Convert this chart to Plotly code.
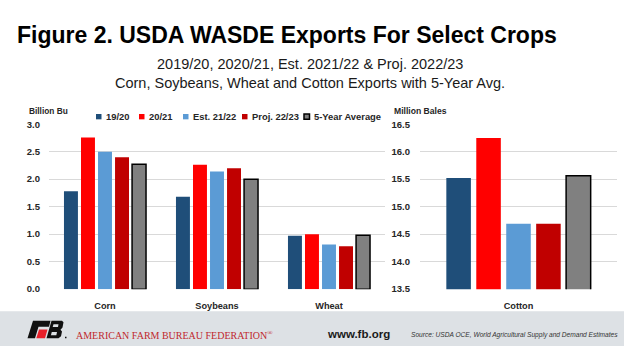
import plotly.graph_objects as go

W, H = 624, 351

# ---------------- data ----------------
categories = ["Corn", "Soybeans", "Wheat"]
cotton_category = ["Cotton"]
series_names = ["19/20", "20/21", "Est. 21/22", "Proj. 22/23", "5-Year Average"]

grain_1920 = [1.78, 1.68, 0.97]
grain_2021 = [2.76, 2.26, 1.00]
grain_2122 = [2.50, 2.14, 0.81]
grain_2223 = [2.40, 2.20, 0.78]
grain_5yr = [2.27, 2.00, 0.98]

cotton_1920 = [15.52]
cotton_2021 = [16.25]
cotton_2122 = [14.69]
cotton_2223 = [14.69]
cotton_5yr = [15.56]

left_ticks = [0.0, 0.5, 1.0, 1.5, 2.0, 2.5, 3.0]
right_ticks = [13.5, 14.0, 14.5, 15.0, 15.5, 16.0, 16.5]

grain_series = [grain_1920, grain_2021, grain_2122, grain_2223, grain_5yr]
cotton_series = [cotton_1920, cotton_2021, cotton_2122, cotton_2223, cotton_5yr]

# ---------------- styles ----------------
colors = ["#1F4E79", "#FF0000", "#5B9BD5", "#C00000", "#808080"]
outline_w = [0, 0, 0, 0, 1.5]
SANS = "Liberation Sans, Arial"
SERIF = "Liberation Serif, Times New Roman"
TXT = "#262626"
GRID = "#D9D9D9"
FOOT = "#DDE1E5"


def px(x):
    return x / W


def py(y):
    return 1 - y / H


fig = go.Figure()
for name, g, c, col, lw in zip(series_names, grain_series, cotton_series, colors, outline_w):
    fig.add_trace(go.Bar(x=categories, y=g, name=name, marker=dict(color=col, line=dict(color="#000000", width=lw)),
                         xaxis="x", yaxis="y", showlegend=False))
    fig.add_trace(go.Bar(x=cotton_category, y=c, name=name, marker=dict(color=col, line=dict(color="#000000", width=lw)),
                         xaxis="x2", yaxis="y2", showlegend=False))

ydom = [py(292.3), py(122)]
ytickfont = dict(family=SANS, size=9.5, color=TXT, weight="bold")
xtickfont = dict(family=SANS, size=9.2, color=TXT, weight="bold")

fig.update_layout(
    width=W, height=H, margin=dict(l=0, r=0, t=0, b=0),
    paper_bgcolor="white", plot_bgcolor="white",
    barmode="group", bargap=0.24, bargroupgap=0.18,
    xaxis=dict(domain=[px(49), px(385)], anchor="y", showgrid=False, showline=False, zeroline=False,
               tickfont=xtickfont, ticks="", ticklabelstandoff=10, fixedrange=True),
    yaxis=dict(domain=ydom, anchor="x", range=[0, 3], tickvals=left_ticks, tickformat=".1f",
               showgrid=True, gridcolor=GRID, gridwidth=1, zeroline=False, showline=False,
               tickfont=ytickfont, ticks="", ticklabelstandoff=8),
    xaxis2=dict(domain=[px(420), px(617)], anchor="y2", showgrid=False, showline=False, zeroline=False,
                tickfont=xtickfont, ticks="", ticklabelstandoff=10),
    yaxis2=dict(domain=ydom, anchor="x2", range=[13.5, 16.5], tickvals=right_ticks, tickformat=".1f",
                showgrid=True, gridcolor=GRID, gridwidth=1, zeroline=False, showline=False,
                tickfont=ytickfont, ticks="", ticklabelstandoff=9),
)

ann = []


def text(x, y, s, size, family=SANS, color=TXT, xanchor="left", weight="normal"):
    ann.append(dict(x=px(x), y=py(y), xref="paper", yref="paper", text=s, showarrow=False,
                    xanchor=xanchor, yanchor="middle",
                    font=dict(family=family, size=size, color=color, weight=weight)))


# titles
text(15, 30, "Figure 2. USDA WASDE Exports For Select Crops", 23, SANS, "#000000", weight="bold")
text(310, 60, "2019/20, 2020/21, Est. 2021/22 &amp; Proj. 2022/23", 14.5, SANS, "#1a1a1a", xanchor="center")
text(310, 80, "Corn, Soybeans, Wheat and Cotton Exports with 5-Year Avg.", 14.5, SANS, "#1a1a1a", xanchor="center")

# axis unit labels
text(27, 108, "Billion Bu", 8.3, SANS, TXT, weight="bold")
text(392, 108, "Million Bales", 8.6, SANS, TXT, weight="bold")

# manual legend
legend_x = [96, 139, 183, 242, 304]
shapes = []
for name, col, lw, lx in zip(series_names, colors, outline_w, legend_x):
    shapes.append(dict(type="rect", xref="paper", yref="paper", x0=px(lx), x1=px(lx + 5.5),
                       y0=py(117), y1=py(111.5), fillcolor=col,
                       line=dict(color="#000000", width=lw if lw else 0)))
    text(lx + 8, 114, name, 9.4, SANS, TXT, weight="bold")

# footer band
shapes.append(dict(type="rect", xref="paper", yref="paper", x0=0, x1=1, y0=0, y1=py(315),
                   fillcolor=FOOT, line=dict(width=0), layer="below"))


def path(pts):
    return "M " + " L ".join(f"{px(a):.5f},{py(b):.5f}" for a, b in pts) + " Z"


# FB logo
shapes.append(dict(type="path", xref="paper", yref="paper",
                   path=path([(33, 325), (50.5, 325), (49, 331), (38.5, 331), (35, 343), (27.5, 343)]),
                   fillcolor="#111111", line=dict(width=0)))
shapes.append(dict(type="path", xref="paper", yref="paper",
                   path=path([(39, 334), (47.5, 334), (45, 343), (36.3, 343)]),
                   fillcolor="#E8202A", line=dict(width=0)))
shapes.append(dict(type="path", xref="paper", yref="paper",
                   path=path([(51.5, 325), (62, 325), (63.5, 326.5), (62.5, 332), (60.5, 334.3), (62, 336),
                              (61, 341), (58.5, 343), (46.5, 343)]),
                   fillcolor="#111111", line=dict(width=0)))
shapes.append(dict(type="path", xref="paper", yref="paper",
                   path=path([(53.5, 328.5), (58.5, 328.5), (58, 331.5), (52.7, 331.5)]),
                   fillcolor=FOOT, line=dict(width=0)))
shapes.append(dict(type="path", xref="paper", yref="paper",
                   path=path([(51.8, 336.5), (57, 336.5), (56.3, 339.8), (50.9, 339.8)]),
                   fillcolor=FOOT, line=dict(width=0)))
shapes.append(dict(type="rect", xref="paper", yref="paper", x0=px(65), x1=px(66.5), y0=py(343), y1=py(341.5),
                   fillcolor="#111111", line=dict(width=0)))

text(74, 339.5, "AMERICAN FARM BUREAU FEDERATION<sup>®</sup>", 10, SERIF, "#C0272D")
text(325, 339, "www.fb.org", 11.5, SANS, "#1a1a1a", weight="bold")
text(409, 339.5, "<i>Source: USDA OCE, World Agricultural Supply and Demand Estimates</i>", 6.6, SANS, "#333333")

fig.update_layout(annotations=ann, shapes=shapes)
fig.write_html("out.html")
